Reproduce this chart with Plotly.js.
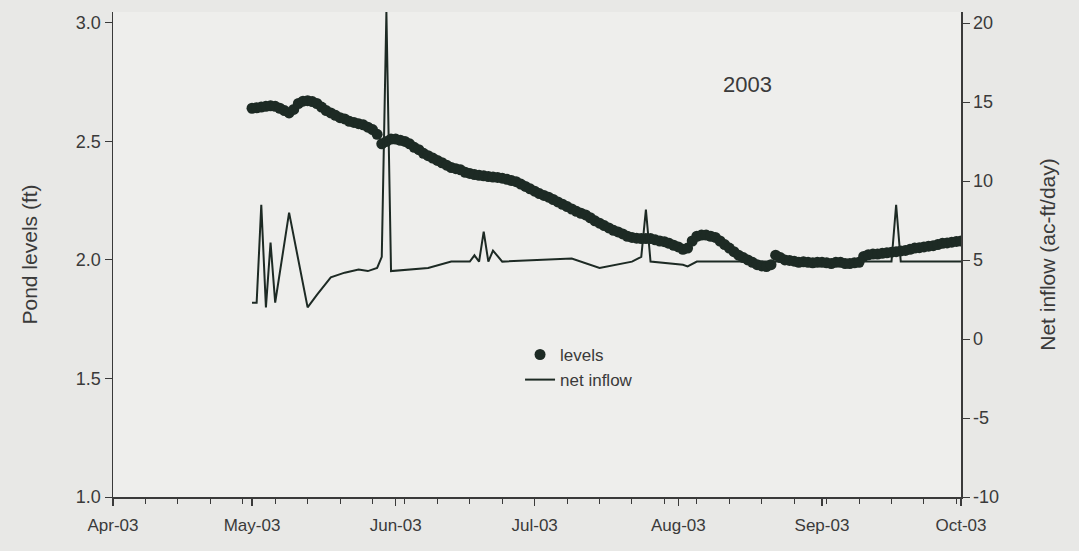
<!DOCTYPE html>
<html>
<head>
<meta charset="utf-8">
<script src="https://cdn.plot.ly/plotly-3.0.1.min.js"></script>
<style>html,body{margin:0;padding:0;background:#e8e8e6;}#chart{width:1079px;height:551px;}</style>
</head>
<body>
<div id="chart"></div>
<script>
// Pond levels (ft), 2003 — one reading per day from May 1 to Oct 1
const levelStart = '2003-05-01';
const levelsMay = [2.64,2.642,2.645,2.648,2.65,2.648,2.64,2.63,2.62,2.635,2.66,2.67,2.672,2.668,2.66,2.645,
  2.63,2.62,2.61,2.60,2.595,2.585,2.58,2.575,2.57,2.56,2.55,2.53,2.49,2.50,2.51];
const levelsJun = [2.51,2.505,2.50,2.49,2.475,2.465,2.45,2.44,2.43,2.42,2.41,2.40,2.39,2.385,2.38,2.37,
  2.365,2.36,2.357,2.355,2.352,2.35,2.348,2.345,2.34,2.335,2.33,2.32,2.31,2.30];
const levelsJul = [2.29,2.28,2.272,2.265,2.255,2.245,2.235,2.225,2.215,2.205,2.197,2.19,2.178,2.165,2.155,2.145,
  2.135,2.125,2.118,2.11,2.10,2.095,2.092,2.09,2.09,2.09,2.085,2.08,2.077,2.07,2.062];
const levelsAug = [2.055,2.045,2.05,2.08,2.10,2.105,2.105,2.10,2.095,2.08,2.065,2.05,2.035,2.02,2.01,2.0,
  1.99,1.98,1.975,1.972,1.98,2.02,2.01,2.00,1.998,1.995,1.99,1.992,1.99,1.988,1.99];
const levelsSep = [1.99,1.988,1.985,1.99,1.99,1.985,1.985,1.988,1.99,2.015,2.022,2.025,2.025,2.028,2.03,2.033,
  2.035,2.038,2.04,2.045,2.05,2.052,2.055,2.058,2.06,2.065,2.07,2.072,2.075,2.078];
const levelsOct = [2.08];

// Net inflow (ac-ft/day)
const inflowDates = [
 '2003-05-01','2003-05-02','2003-05-03','2003-05-04','2003-05-05','2003-05-06','2003-05-09','2003-05-13',
 '2003-05-15','2003-05-18','2003-05-21','2003-05-24','2003-05-26','2003-05-28','2003-05-29','2003-05-30',
 '2003-05-31','2003-06-08','2003-06-13','2003-06-17','2003-06-18','2003-06-19','2003-06-20','2003-06-21',
 '2003-06-22','2003-06-24','2003-07-09','2003-07-15','2003-07-22','2003-07-24','2003-07-25','2003-07-26',
 '2003-08-02','2003-08-03','2003-08-05','2003-09-16','2003-09-17','2003-09-18','2003-10-01'
];
const inflowValues = [
 2.3,2.3,8.5,2.0,6.1,2.3,8.0,2.0,
 2.8,3.9,4.2,4.4,4.3,4.5,5.2,20.7,
 4.3,4.5,4.9,4.9,5.3,4.9,6.8,4.9,
 5.6,4.9,5.1,4.5,4.9,5.2,8.2,4.9,
 4.7,4.6,4.9,4.9,8.5,4.9,4.9
];

const monthTicks = ['2003-04-01','2003-05-01','2003-06-01','2003-07-01','2003-08-01','2003-09-01','2003-10-01'];
const leftTicks = [1.0,1.5,2.0,2.5,3.0];
const rightTicks = [-10,-5,0,5,10,15,20];
const rightTickText = ['-10','-5','0','5','10','15','20'];

// build daily dates for the level readings
const levelValues = [].concat(levelsMay, levelsJun, levelsJul, levelsAug, levelsSep, levelsOct);
const levelDates = levelValues.map((v, i) => {
  const d = new Date(levelStart + 'T00:00:00Z');
  d.setUTCDate(d.getUTCDate() + i);
  return d.toISOString().slice(0, 10);
});

const ink = '#1d2a24';
const axisCol = '#3a3a3a';
const fam = '"Liberation Sans", Arial, sans-serif';
const txt = '#3a3a3a';

const traces = [
 {x:levelDates, y:levelValues, type:'scatter', mode:'markers', name:'levels',
  marker:{size:11, color:ink}, yaxis:'y'},
 {x:inflowDates, y:inflowValues, type:'scatter', mode:'lines', name:'net inflow',
  line:{color:ink, width:2}, yaxis:'y2'}
];

const layout = {
 width:1079, height:551,
 margin:{l:113, r:118, t:12, b:54},
 paper_bgcolor:'#e8e8e6', plot_bgcolor:'#eeeeec',
 font:{family:fam, size:17, color:txt},
 showlegend:true,
 legend:{x:0.48, y:0.33, xanchor:'left', yanchor:'top', bgcolor:'rgba(0,0,0,0)',
   font:{family:fam, size:17, color:txt}, tracegroupgap:0, itemwidth:30},
 xaxis:{type:'date', range:['2003-04-01','2003-10-01'], tickvals:monthTicks, tickformat:'%b-%y',
   showgrid:false, zeroline:false, showline:true, linecolor:axisCol, linewidth:1.5,
   ticks:'outside', ticklen:7, tickcolor:axisCol, tickwidth:1.2, ticklabelstandoff:5,
   minor:{dtick:7*86400000, tick0:'2003-04-01', ticks:'outside', ticklen:5, tickcolor:axisCol, tickwidth:1, showgrid:false},
   tickfont:{family:fam, size:17, color:txt}},
 yaxis:{range:[1.0,3.046], tickvals:leftTicks, tickformat:'.1f',
   showgrid:false, zeroline:false, showline:true, linecolor:axisCol, linewidth:1.5,
   ticks:'outside', ticklen:7, tickcolor:axisCol,
   title:{text:'Pond levels (ft)', font:{family:fam, size:21, color:txt}, standoff:32},
   tickfont:{family:fam, size:18, color:txt}},
 yaxis2:{range:[-10,20.7], tickvals:rightTicks, ticktext:rightTickText, overlaying:'y', side:'right',
   showgrid:false, zeroline:false, showline:true, linecolor:axisCol, linewidth:1.5,
   ticks:'outside', ticklen:7, tickcolor:axisCol,
   title:{text:'Net inflow (ac-ft/day)', font:{family:fam, size:21, color:txt}, standoff:42},
   tickfont:{family:fam, size:18, color:txt}},
 annotations:[{text:'2003', xref:'x', yref:'y', x:'2003-08-16', y:2.74, showarrow:false,
   font:{family:fam, size:22, color:txt}}]
};

Plotly.newPlot('chart', traces, layout, {staticPlot:true, displayModeBar:false});
</script>
</body>
</html>
